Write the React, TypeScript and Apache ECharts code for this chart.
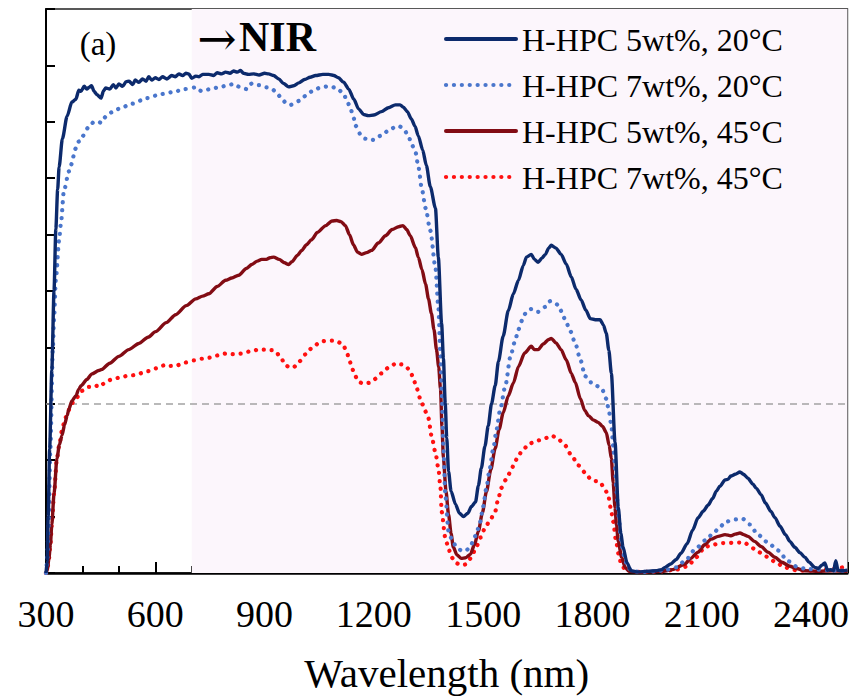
import React, { useEffect, useRef } from "react";
import * as echarts from "echarts";

const FONT = "Liberation Serif";

const xTicks = [300, 600, 900, 1200, 1500, 1800, 2100, 2400];
const seriesNames = [
  "H-HPC 5wt%, 20°C",
  "H-HPC 7wt%, 20°C",
  "H-HPC 5wt%, 45°C",
  "H-HPC 7wt%, 45°C",
];
const seriesColors = ["#0c2a6c", "#4a76cc", "#820c14", "#ff1010"];

const hpc5_20: number[][] = [
  [300, 0], [303, 2], [306, 10], [310, 22], [316, 36], [322, 50], [327, 61], [332, 68], [336, 72], [345, 77],
  [358, 81], [371, 83.5], [382, 84], [390, 85.6], [396, 85.4], [405, 86.3], [412, 85.8], [418, 86.1], [425, 86.4],
  [432, 85.4], [440, 84.8], [451, 84.2], [458, 85.5], [464, 86], [475, 85.8], [485, 86.6], [492, 86.0], [500, 86.7],
  [510, 86.3], [520, 87.1], [528, 87.2], [538, 86.6], [545, 87.4], [555, 87.0], [565, 87.6], [575, 87.2], [582, 88],
  [590, 87.4], [600, 87.8], [610, 87.5], [620, 88.0], [632, 87.6], [645, 88.2], [655, 88.0], [665, 88.5], [675, 88.2],
  [684, 88.6], [692, 88.5], [700, 87.7], [711, 88.1], [720, 88.0], [730, 88.4], [747, 88.4], [760, 88.2], [770, 88.7],
  [782, 88.5], [793, 88.8], [805, 88.6], [815, 89.0], [825, 88.8], [834, 89.1], [842, 88.6], [856, 88.4], [870, 88.5],
  [885, 88.3], [900, 88.6], [911, 88.5], [925, 88.2], [939, 87.6], [952, 86.8], [966, 86.2], [980, 86.4], [994, 86.9],
  [1010, 87.5], [1025, 87.9], [1040, 88.2], [1060, 88.4], [1076, 88.4], [1090, 88.2], [1103, 87.8], [1117, 87.0],
  [1131, 85.8], [1145, 84.0], [1158, 82.3], [1172, 81.3], [1185, 81.1], [1200, 81.2], [1221, 81.8], [1240, 82.5],
  [1259, 83.0], [1272, 83.0], [1281, 82.6], [1292, 81.8], [1303, 80.5], [1313, 79.2], [1322, 77.5], [1334, 75.0],
  [1344, 72.3], [1355, 68.5], [1369, 64.7], [1377, 56], [1386, 44.2], [1391, 38], [1396, 30], [1400, 24], [1405, 18],
  [1412, 14.5], [1424, 12.2], [1435, 10.6], [1446, 10], [1458, 10.6], [1468, 11.8], [1479, 12.6], [1487, 15.5],
  [1495, 18.6], [1505, 22.5], [1514, 26.1], [1523, 30], [1533, 33.2], [1542, 37.5], [1555, 42], [1569, 46.5],
  [1583, 49.5], [1597, 51.9], [1610, 54.5], [1619, 56], [1632, 56.5], [1641, 55.6], [1651, 55.1], [1661, 55.8],
  [1671, 56.5], [1680, 57.6], [1687, 58.1], [1700, 57.6], [1714, 56.5], [1728, 54.8], [1742, 52.5], [1755, 50.3],
  [1769, 48.4], [1782, 46.6], [1794, 45.1], [1808, 44.9], [1821, 44.9], [1830, 44], [1838, 42.5], [1845, 39.5],
  [1852, 35.4], [1862, 23.2], [1871, 11.6], [1878, 7], [1884, 4.6], [1895, 1.8], [1906, 0.4], [1925, 0.2], [1950, 0.3],
  [1975, 0.4], [1990, 0.6], [1999, 1], [2015, 1.6], [2030, 2.4], [2043, 3.5], [2060, 5.2], [2075, 7.6], [2090, 9.8],
  [2105, 11], [2117, 12], [2130, 13.2], [2140, 14.5], [2150, 15.4], [2164, 16.5], [2172, 16.6], [2180, 17.2],
  [2192, 17.5], [2205, 17.9], [2215, 17.5], [2227, 16.8], [2240, 15.8], [2250, 15], [2263, 13.9], [2275, 12.4],
  [2290, 10.9], [2301, 9.8], [2315, 8.3], [2330, 6.8], [2342, 5.6], [2355, 4.6], [2370, 3.6], [2383, 2.8], [2395, 1.9],
  [2410, 1], [2420, 0.8], [2430, 1.4], [2438, 1.8], [2445, 0.5], [2455, 0.6], [2462, 0.4], [2468, 2.2], [2474, 0.5],
  [2485, 0.4], [2500, 0.5],
];

const hpc7_20: number[][] = [
  [300, 0], [303, 2], [307, 8], [312, 22], [319, 40], [322, 45], [327, 52], [336, 59], [341, 62], [349, 67.7],
  [363, 71.2], [368, 72.3], [382, 75.3], [390, 76.5], [401, 77.5], [415, 78.9], [432, 80], [445, 80.0], [451, 79.8],
  [464, 80.9], [481, 81.7], [500, 82.3], [536, 83.2], [577, 84.2], [615, 84.9], [651, 85.3], [680, 85.8], [711, 86.1],
  [728, 85.4], [750, 85.8], [774, 86.1], [795, 86.4], [815, 86.7], [834, 86.1], [851, 85.8], [865, 86.8], [885, 86.5],
  [906, 86.1], [920, 85.8], [930, 85.4], [944, 84.4], [958, 83.4], [971, 83.0], [985, 83.3], [994, 83.7], [1013, 84.6],
  [1030, 85.4], [1054, 86.1], [1076, 86.3], [1098, 86.0], [1110, 85.4], [1117, 84.9], [1126, 83.8], [1136, 82.3],
  [1144, 80.8], [1150, 79.3], [1163, 77.8], [1177, 77.0], [1191, 76.7], [1199, 76.8], [1218, 77.5], [1240, 78.4],
  [1259, 79.1], [1270, 79.2], [1281, 78.8], [1295, 77.5], [1303, 76.1], [1314, 74.7], [1322, 72.1], [1332, 68],
  [1342, 64.7], [1355, 60.7], [1369, 54.2], [1377, 47.2], [1383, 38.4], [1386, 32.6], [1391, 22], [1396, 14],
  [1405, 7.4], [1416, 5.6], [1427, 4.6], [1440, 4.0], [1451, 3.9], [1462, 4.4], [1473, 5.6], [1482, 7.2], [1492, 9.1],
  [1500, 11.8], [1509, 15.1], [1518, 18.5], [1528, 22.1], [1537, 25.5], [1547, 29.1], [1561, 33.2], [1575, 38.4],
  [1587, 41.0], [1597, 43.2], [1607, 44.8], [1616, 46], [1632, 46.8], [1651, 46.3], [1661, 46.8], [1671, 47.2],
  [1684, 48.2], [1695, 48.0], [1706, 47.5], [1716, 46.3], [1725, 44.9], [1740, 42.8], [1753, 40.7], [1767, 37.8],
  [1780, 34.9], [1795, 33.8], [1810, 33.2], [1825, 32.8], [1838, 30.9], [1845, 28.8], [1852, 26.1], [1857, 22.6],
  [1862, 18.6], [1866, 14.5], [1871, 10.4], [1880, 5], [1890, 2.1], [1900, 0.8], [1910, 0.3], [1940, 0.2], [1970, 0.3],
  [2000, 0.5], [2030, 1.0], [2055, 2.2], [2082, 4.2], [2110, 5.8], [2137, 7.4], [2150, 8.2], [2167, 9.1], [2191, 9.5],
  [2213, 9.6], [2225, 9.1], [2232, 8.6], [2254, 6.8], [2282, 5.4], [2309, 4], [2337, 2.1], [2364, 1], [2390, 0.7],
  [2420, 0.6], [2450, 0.5], [2480, 0.4], [2500, 0.5],
];

const hpc5_45: number[][] = [
  [300, 0], [303, 0.3], [308, 2.5], [312, 5], [316, 8.6], [322, 14], [330, 20.3], [337, 22.8], [344, 24.4],
  [351, 26.3], [358, 27.9], [363, 29.1], [371, 30.5], [382, 31.4], [390, 32.6], [396, 33.2], [412, 34.3], [426, 35.3],
  [445, 35.9], [453, 36.1], [475, 37.2], [500, 38.4], [527, 39.6], [555, 40.7], [580, 41.8], [601, 42.8], [630, 44.4],
  [656, 45.8], [685, 47.4], [711, 48.6], [730, 49.1], [747, 49.5], [770, 50.8], [793, 51.9], [810, 52.3], [829, 52.8],
  [850, 54.0], [865, 54.7], [880, 55.3], [892, 55.6], [905, 55.6], [915, 55.9], [925, 56], [940, 55.6], [955, 55.0],
  [966, 54.7], [975, 55.2], [990, 56.3], [1002, 57.2], [1015, 58.2], [1029, 59.1], [1045, 60.4], [1068, 61.6],
  [1085, 62.4], [1098, 62.5], [1110, 62.3], [1122, 61.6], [1133, 60.0], [1144, 58.2], [1155, 56.9], [1166, 56.5],
  [1180, 56.8], [1194, 57.2], [1212, 58.5], [1232, 59.8], [1250, 60.9], [1268, 61.4], [1280, 61.6], [1290, 60.9],
  [1300, 59.8], [1314, 57.7], [1322, 56], [1332, 53.8], [1342, 51.2], [1350, 48.6], [1358, 46], [1365, 43.2],
  [1372, 39.6], [1378, 36.5], [1383, 32.6], [1387, 26], [1391, 20.3], [1398, 14.5], [1405, 10.4], [1412, 7],
  [1418, 4.6], [1428, 3.2], [1440, 2.6], [1452, 2.7], [1465, 3.3], [1476, 5.0], [1487, 7.4], [1498, 10.7], [1509, 14.4],
  [1521, 18.3], [1533, 22.1], [1544, 25.5], [1555, 28.4], [1569, 31.4], [1583, 33.7], [1597, 36.6], [1614, 39.0],
  [1632, 40.2], [1641, 39.6], [1651, 39.6], [1665, 40.6], [1680, 41.4], [1687, 41.6], [1700, 40.8], [1714, 39.6],
  [1728, 37.8], [1742, 35.4], [1753, 33.8], [1767, 30.9], [1779, 28.8], [1789, 27.9], [1803, 27.1], [1816, 26.7],
  [1828, 26.0], [1838, 24.9], [1846, 22.6], [1852, 20.3], [1857, 16], [1862, 11.6], [1866, 8.5], [1871, 5.6],
  [1880, 2.8], [1890, 1], [1900, 0.3], [1930, 0.1], [1960, 0.2], [1990, 0.3], [2020, 0.6], [2054, 1.6], [2070, 2.6],
  [2090, 3.7], [2108, 5.0], [2126, 6], [2145, 6.5], [2164, 6.8], [2180, 6.6], [2192, 6.9], [2205, 7.1], [2215, 6.8],
  [2227, 6.5], [2245, 5.6], [2263, 4.7], [2282, 3.7], [2301, 2.8], [2320, 1.9], [2342, 1.2], [2360, 0.8], [2383, 0.4],
  [2420, 0.3], [2460, 0.4], [2500, 0.3],
];

const hpc7_45: number[][] = [
  [300, 0], [303, 0.3], [308, 2.5], [312, 5], [316, 8.6], [322, 14], [330, 20.3], [337, 23], [344, 25.3], [352, 27.3],
  [360, 28.6], [368, 29.6], [376, 30.5], [385, 31.1], [392, 31.8], [399, 32.3], [408, 32.8], [418, 33], [428, 33.2],
  [437, 33.2], [448, 33], [456, 33.5], [464, 34], [485, 34.4], [505, 34.7], [527, 35], [547, 35.1], [565, 35.5],
  [582, 35.8], [603, 36.3], [623, 36.8], [640, 36.7], [659, 36.8], [680, 37.3], [706, 37.7], [730, 38], [752, 38.2],
  [773, 38.6], [793, 38.9], [815, 38.8], [837, 38.9], [860, 39.3], [884, 39.6], [906, 39.6], [920, 39.5], [930, 39.3],
  [944, 38.2], [958, 36.8], [970, 36.4], [980, 36.5], [995, 37.5], [1013, 38.8], [1030, 39.9], [1048, 40.7],
  [1060, 41.1], [1070, 41.2], [1095, 41.2], [1111, 40.7], [1118, 40.1], [1125, 39.3], [1132, 38.0], [1139, 36.5],
  [1148, 35.0], [1158, 33.9], [1170, 33.6], [1185, 33.7], [1200, 34.3], [1221, 35.4], [1240, 36.4], [1262, 37.2],
  [1275, 37.0], [1287, 36.7], [1300, 35.8], [1309, 34.4], [1317, 32.8], [1331, 30.2], [1340, 28.8], [1350, 27.4],
  [1358, 24.4], [1369, 21.4], [1377, 18.6], [1383, 15.1], [1386, 10.9], [1396, 6.3], [1405, 4.3], [1413, 2.8],
  [1425, 1.8], [1438, 1.4], [1450, 1.5], [1459, 1.9], [1470, 3.2], [1481, 4.6], [1493, 6.3], [1506, 8.1], [1520, 9.5],
  [1533, 10.9], [1541, 13], [1550, 15.1], [1562, 16.5], [1575, 17.9], [1586, 19.5], [1597, 20.9], [1612, 22.1],
  [1629, 23], [1650, 23.5], [1671, 23.9], [1687, 24.4], [1705, 23.8], [1725, 22.6], [1743, 20.8], [1761, 19.1],
  [1780, 17.8], [1797, 16.5], [1810, 16.3], [1821, 16.1], [1832, 15.1], [1843, 13.9], [1850, 11.6], [1857, 9.1],
  [1865, 5.6], [1872, 3.3], [1879, 1.6], [1888, 0.8], [1898, 0.4], [1930, 0.2], [1960, 0.2], [1990, 0.3], [2030, 0.6],
  [2062, 1.2], [2085, 2.8], [2109, 4.6], [2130, 5.0], [2153, 5.3], [2170, 5.3], [2191, 5.4], [2205, 5.4], [2219, 5.3],
  [2232, 4.8], [2246, 4.2], [2264, 3.5], [2282, 2.8], [2305, 1.8], [2328, 1], [2345, 0.7], [2364, 0.4], [2400, 0.4],
  [2440, 0.6], [2470, 0.8], [2488, 1], [2500, 0.6],
];

const seriesData = [hpc5_20, hpc7_20, hpc5_45, hpc7_45];
const dotted = [false, true, false, true];
const nirStart = 700;
const thresholdLine = 30;

const DOT_DASH = [0.1, 7.8];

export default function App() {
  const ref = useRef<HTMLDivElement>(null);
  useEffect(() => {
    if (!ref.current) return;
    const chart = echarts.init(ref.current, undefined, { renderer: "svg" });
    const lineSeries = seriesNames.map((name, i) => ({
      type: "line",
      name,
      data: seriesData[i],
      showSymbol: false,
      symbol: "none",
      smooth: 0.25,
      smoothMonotone: "x",
      z: 10 - i,
      lineStyle: dotted[i]
        ? { color: seriesColors[i], width: 4.2, type: DOT_DASH, cap: "round" }
        : { color: seriesColors[i], width: 3.4 },
      itemStyle: { color: seriesColors[i] },
    }));

    const legendGraphics: any[] = [];
    seriesNames.forEach((name, i) => {
      const cy = 39 + i * 46;
      legendGraphics.push({
        type: "line",
        z: 100,
        shape: { x1: 446, y1: cy, x2: dotted[i] ? 512 : 516, y2: cy },
        style: dotted[i]
          ? { stroke: seriesColors[i], lineWidth: 4.2, lineDash: DOT_DASH, lineCap: "round" }
          : { stroke: seriesColors[i], lineWidth: 4, lineCap: "round" },
      });
      legendGraphics.push({
        type: "text",
        z: 100,
        x: 522,
        y: cy + 1,
        style: { text: name, fontFamily: FONT, fontSize: 32, fill: "#000", align: "left", verticalAlign: "middle" },
      });
    });

    const option: any = {
      animation: false,
      backgroundColor: "#ffffff",
      textStyle: { fontFamily: FONT },
      grid: {
        left: 46, right: 4, top: 9, bottom: 119,
        show: true, borderColor: "#222", borderWidth: 1.5, backgroundColor: "transparent",
      },
      xAxis: [
        {
          type: "value", min: 300, max: 2500, interval: 300, position: "bottom",
          axisLine: { lineStyle: { color: "#000", width: 2.5 } },
          axisTick: { inside: true, length: 11, lineStyle: { color: "#000", width: 2 } },
          axisLabel: {
            margin: 22,
            fontFamily: FONT, fontSize: 38, color: "#000",
            formatter: (v: number) => (xTicks.includes(v) ? String(v) : ""),
          },
          splitLine: { show: false },
          name: "Wavelength (nm)", nameLocation: "middle", nameGap: 79,
          nameTextStyle: { fontFamily: FONT, fontSize: 41, color: "#000" },
        },
        {
          type: "value", min: 300, max: 2500, interval: 100, position: "bottom",
          axisLine: { show: false },
          axisTick: { inside: true, length: 7, lineStyle: { color: "#000", width: 2 } },
          axisLabel: { show: false },
          splitLine: { show: false },
        },
      ],
      yAxis: {
        type: "value", min: 0, max: 100, interval: 10,
        axisLine: { show: true, lineStyle: { color: "#000", width: 2 } },
        axisTick: { inside: true, length: 9, lineStyle: { color: "#000", width: 2 } },
        axisLabel: { show: false },
        splitLine: { show: false },
      },
      series: [
        {
          type: "line", name: "_bg", data: [], z: 1, silent: true,
          markArea: {
            silent: true,
            itemStyle: { color: "#fcf6fc" },
            data: [[{ xAxis: nirStart }, { xAxis: 2500 }]],
          },
          markLine: {
            silent: true, symbol: ["none", "none"], label: { show: false },
            lineStyle: { color: "#a3a3a3", type: [7, 5], width: 1.6 },
            data: [{ yAxis: thresholdLine }],
          },
        },
        ...lineSeries,
      ],
      graphic: [
        {
          type: "text", x: 98, y: 44, z: 100,
          style: { text: "(a)", fontFamily: FONT, fontSize: 33, fill: "#000", align: "center", verticalAlign: "middle" },
        },
        {
          type: "text", x: 217, y: 38, z: 100,
          style: { text: "→", fontFamily: "DejaVu Serif", fontSize: 47, fill: "#000", align: "center", verticalAlign: "middle" },
        },
        {
          type: "text", x: 239, y: 37, z: 100,
          style: { text: "NIR", fontFamily: FONT, fontSize: 42, fontWeight: "bold", fill: "#000", align: "left", verticalAlign: "middle" },
        },
        ...legendGraphics,
      ],
    };
    chart.setOption(option);
    return () => chart.dispose();
  }, []);
  return <div ref={ref} style={{ position: "fixed", left: 0, top: 0, width: 852, height: 698 }} />;
}
